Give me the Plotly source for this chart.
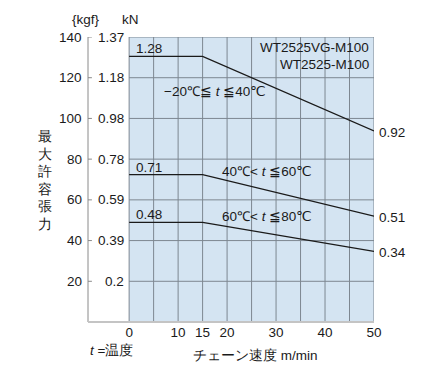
import plotly.graph_objects as go

KN2KGF = 101.97

speed = [0, 15, 50]
series_names = ["−20℃≦ <i>t</i> ≦40℃", "40℃< <i>t</i> ≦60℃", "60℃< <i>t</i> ≦80℃"]
series_kn = [
    [1.28, 1.28, 0.92],
    [0.71, 0.71, 0.51],
    [0.48, 0.48, 0.34],
]
kgf_ticks = [20, 40, 60, 80, 100, 120, 140]
kn_ticks = ["0.2", "0.39", "0.59", "0.78", "0.98", "1.18", "1.37"]
x_grid = [0, 5, 10, 15, 20, 25, 30, 35, 40, 45, 50]
x_labels = ["0", "", "10", "15", "20", "", "30", "", "40", "", "50"]
models = ["WT2525VG-M100", "WT2525-M100"]

FONT = "Liberation Sans, Arial, sans-serif"
FS = 13.5
TXT = "#1a1a1a"
BLUE = "#d4e4f2"
GRID = "#7d8791"
XMIN = -8.4

fig = go.Figure()
for vals in series_kn:
    fig.add_trace(go.Scatter(x=speed, y=[v * KN2KGF for v in vals], mode="lines",
                             line=dict(color=TXT, width=1.3), showlegend=False,
                             hoverinfo="skip"))

ann = []
cond_pos = [(6.8, 113), (18.5, 73.7), (18.5, 51.6)]
for name, vals, (cx, cy) in zip(series_names, series_kn, cond_pos):
    ann.append(dict(x=0, y=vals[0] * KN2KGF, text=f"{vals[0]:.2f}", xanchor="left",
                    yanchor="bottom", xshift=5, yshift=-2, showarrow=False))
    ann.append(dict(x=50, y=vals[-1] * KN2KGF, text=f"{vals[-1]:.2f}", xanchor="left",
                    yanchor="middle", xshift=3, yshift=-1, showarrow=False))
    ann.append(dict(x=cx, y=cy, text=name, xanchor="left", yanchor="middle", showarrow=False))
ann.append(dict(x=50, y=134.6, text=models[0], xanchor="right", yanchor="middle",
                xshift=-3, showarrow=False))
ann.append(dict(x=50, y=126.7, text=models[1], xanchor="right", yanchor="middle",
                xshift=-3, showarrow=False))
# kgf tick labels on the outer axis
for v in kgf_ticks:
    ann.append(dict(x=0, xref="paper", y=v, text=str(v), xanchor="right",
                    yanchor="middle", xshift=-4, showarrow=False))
# kN tick labels
for v, t in zip(kgf_ticks, kn_ticks):
    ann.append(dict(x=0, xref="x", y=v, text=t, xanchor="right", yanchor="middle",
                    xshift=-3, showarrow=False))
# units
ann.append(dict(x=0, xref="paper", y=1, yref="paper", text="{kgf}", xanchor="center",
                yanchor="bottom", xshift=-2, yshift=8, showarrow=False))
ann.append(dict(x=0, xref="x", y=1, yref="paper", text="kN", xanchor="center",
                yanchor="bottom", xshift=1, yshift=8, showarrow=False))
# y title stacked
ann.append(dict(x=0, xref="paper", y=0.5, yref="paper", text="最<br>大<br>許<br>容<br>張<br>力",
                showarrow=False, xanchor="center", yanchor="middle", xshift=-43, yshift=-1))
ann.append(dict(x=XMIN, xref="x", y=0, yref="paper", text="<i>t</i> =温度", xanchor="left",
                yanchor="top", yshift=-19, showarrow=False))
ann.append(dict(x=12.6, xref="x", y=0, yref="paper", text="チェーン速度 m/min", xanchor="left",
                yanchor="top", yshift=-24, showarrow=False))

for a in ann:
    a.setdefault("font", dict(family=FONT, size=FS, color=TXT))

shapes = []
# blue plot area
shapes.append(dict(type="rect", xref="x", yref="y", x0=0, x1=50, y0=0, y1=140,
                   fillcolor=BLUE, line=dict(width=0), layer="below"))
# grid lines inside blue area
for v in x_grid:
    shapes.append(dict(type="line", xref="x", yref="y", x0=v, x1=v, y0=0, y1=140,
                       line=dict(color=GRID, width=1), layer="below"))
for v in kgf_ticks:
    shapes.append(dict(type="line", xref="x", yref="y", x0=0, x1=50, y0=v, y1=v,
                       line=dict(color=GRID, width=1), layer="below"))
# outer axis line and bottom line
shapes.append(dict(type="line", xref="paper", yref="paper", x0=0, x1=0, y0=0, y1=1,
                   line=dict(color="#8a8a8a", width=1)))
shapes.append(dict(type="line", xref="paper", yref="paper", x0=0, x1=1, y0=0, y1=0,
                   line=dict(color="#c4c4c4", width=2)))
for v in kgf_ticks:
    shapes.append(dict(type="line", xref="x", yref="y", x0=XMIN, x1=XMIN + 0.8, y0=v, y1=v,
                       line=dict(color="#8a8a8a", width=1)))
# right stubs for end labels
for vals in series_kn:
    shapes.append(dict(type="line", xref="x", yref="y", x0=50, x1=50.7, y0=vals[-1] * KN2KGF,
                       y1=vals[-1] * KN2KGF, line=dict(color=TXT, width=1)))

fig.update_layout(
    width=422, height=372,
    margin=dict(l=80, r=56, t=29, b=58),
    paper_bgcolor="white", plot_bgcolor="white",
    font=dict(family=FONT, size=FS, color=TXT),
    annotations=ann, shapes=shapes,
    xaxis=dict(range=[XMIN, 50], tickvals=x_grid, ticktext=x_labels, showgrid=False,
               zeroline=False, showline=False, ticks="", tickfont=dict(size=FS, color=TXT)),
    yaxis=dict(range=[0, 140], showgrid=False, zeroline=False, showline=False, ticks="",
               showticklabels=False),
)

fig.write_html("out.html")
